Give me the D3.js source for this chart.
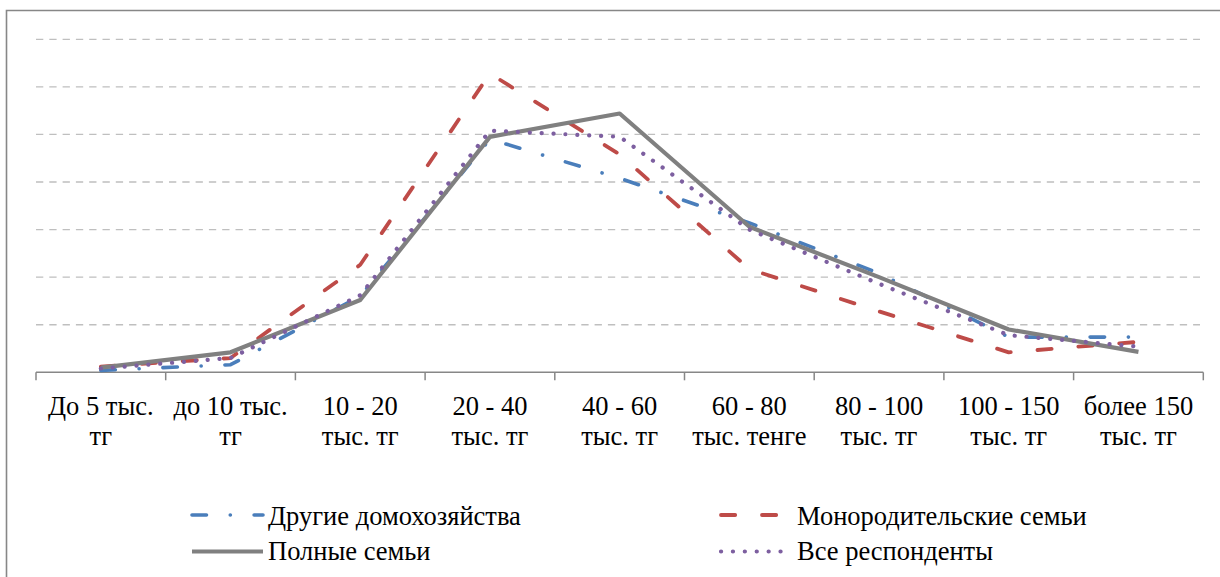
<!DOCTYPE html>
<html>
<head>
<meta charset="utf-8">
<script src="https://cdn.jsdelivr.net/npm/d3@7"></script>
<style>
  html, body { margin: 0; padding: 0; background: #fff; }
  svg { display: block; }
</style>
</head>
<body>
<svg id="chart" width="1220" height="577"></svg>
<script>
// ---- data ----
const categories = [
  ["До 5 тыс.", "тг"],
  ["до 10 тыс.", "тг"],
  ["10 - 20", "тыс. тг"],
  ["20 - 40", "тыс. тг"],
  ["40 - 60", "тыс. тг"],
  ["60 - 80", "тыс. тенге"],
  ["80 - 100", "тыс. тг"],
  ["100 - 150", "тыс. тг"],
  ["более 150", "тыс. тг"]
];
const seriesNames = ["Другие домохозяйства", "Монородительские семьи", "Полные семьи", "Все респонденты"];
const otherHouseholds = [0.2, 0.8, 8.0, 24.5, 20.4, 15.7, 10.4, 3.7, 3.7];
const singleParent    = [0.6, 1.5, 11.3, 31.4, 22.9, 10.85, 6.4, 2.1, 3.2];
const fullFamilies    = [0.5, 2.1, 7.6, 24.75, 27.2, 15.3, 10.0, 4.5, 2.15];
const allRespondents  = [0.4, 1.5, 8.1, 25.4, 24.75, 15.0, 9.3, 3.9, 2.7];
const yTicks = [5, 10, 15, 20, 25, 30, 35];

const FONT = "Liberation Serif";

// ---- layout ----
const svg = d3.select("#chart");
const plotLeft = 36, plotRight = 1203.3, plotTop = 39.3, plotBottom = 372.3;

const x = d3.scaleBand().domain(d3.range(categories.length)).range([plotLeft, plotRight]).padding(0);
const y = d3.scaleLinear().domain([0, 35]).range([plotBottom, plotTop]);

// outer border (left + top visible)
svg.append("path")
  .attr("d", `M6.5,600 L6.5,10.5 L1230,10.5`)
  .attr("fill", "none").attr("stroke", "#878787").attr("stroke-width", 1.6);

// gridlines
svg.append("g").selectAll("line").data(yTicks).join("line")
  .attr("x1", plotLeft).attr("x2", 1200)
  .attr("y1", d => y(d)).attr("y2", d => y(d))
  .attr("stroke", "#bfbfbf").attr("stroke-width", 1.3)
  .attr("stroke-dasharray", "7.3,6");

// x axis
svg.append("line").attr("x1", plotLeft).attr("x2", plotRight).attr("y1", plotBottom).attr("y2", plotBottom)
  .attr("stroke", "#878787").attr("stroke-width", 1.5);
const boundaries = d3.range(categories.length + 1).map(i => i < categories.length ? x(i) : x(i - 1) + x.bandwidth());
svg.append("g").selectAll("line").data(boundaries).join("line")
  .attr("x1", d => d).attr("x2", d => d)
  .attr("y1", plotBottom).attr("y2", plotBottom + 8)
  .attr("stroke", "#878787").attr("stroke-width", 1.5);

// category labels
const lbl = svg.append("g").selectAll("text").data(categories).join("text")
  .attr("text-anchor", "middle")
  .attr("font-family", FONT)
  .attr("fill", "#000")
  .attr("font-size", 26.5);
lbl.append("tspan").attr("x", (d, i) => x(i) + x.bandwidth() / 2).attr("y", 415).text(d => d[0]);
lbl.append("tspan").attr("x", (d, i) => x(i) + x.bandwidth() / 2).attr("y", 445).text(d => d[1]);

// series
const styles = [
  { color: "#4a7ebb", width: 3.6, dash: "14.5,23.75,0.1,23.75", cap: "round" },
  { color: "#be4b48", width: 3.8, dash: "14.2,26.8", cap: "round" },
  { color: "#808080", width: 4.2, dash: null, cap: "butt" },
  { color: "#7d5fa0", width: 4.2, dash: "0.1,11.8", cap: "round" }
];
const data = [otherHouseholds, singleParent, fullFamilies, allRespondents];
const line = d3.line().x((d, i) => x(i) + x.bandwidth() / 2).y(d => y(d));

svg.append("g").selectAll("path").data(data).join("path")
  .attr("d", d => line(d))
  .attr("fill", "none")
  .attr("stroke", (d, i) => styles[i].color)
  .attr("stroke-width", (d, i) => styles[i].width)
  .attr("stroke-dasharray", (d, i) => styles[i].dash)
  .attr("stroke-linecap", (d, i) => styles[i].cap)
  .attr("stroke-linejoin", "round");

// legend
const legendPos = [
  { sx: 192, ex: 263, tx: 268, y: 515, ty: 525 },
  { sx: 721, ex: 783, tx: 797, y: 515, ty: 525 },
  { sx: 192, ex: 263, tx: 268, y: 551.5, ty: 560 },
  { sx: 721, ex: 783, tx: 797, y: 551.5, ty: 560 }
];
const lg = svg.append("g").selectAll("g").data(seriesNames).join("g");
lg.append("line")
  .attr("x1", (d, i) => legendPos[i].sx).attr("x2", (d, i) => legendPos[i].ex)
  .attr("y1", (d, i) => legendPos[i].y).attr("y2", (d, i) => legendPos[i].y)
  .attr("stroke", (d, i) => styles[i].color)
  .attr("stroke-width", (d, i) => styles[i].width)
  .attr("stroke-dasharray", (d, i) => styles[i].dash)
  .attr("stroke-linecap", (d, i) => styles[i].cap);
lg.append("text")
  .attr("x", (d, i) => legendPos[i].tx)
  .attr("y", (d, i) => legendPos[i].ty)
  .attr("font-family", FONT)
  .attr("fill", "#000")
  .attr("font-size", 26.5)
  .text(d => d);
</script>
</body>
</html>
